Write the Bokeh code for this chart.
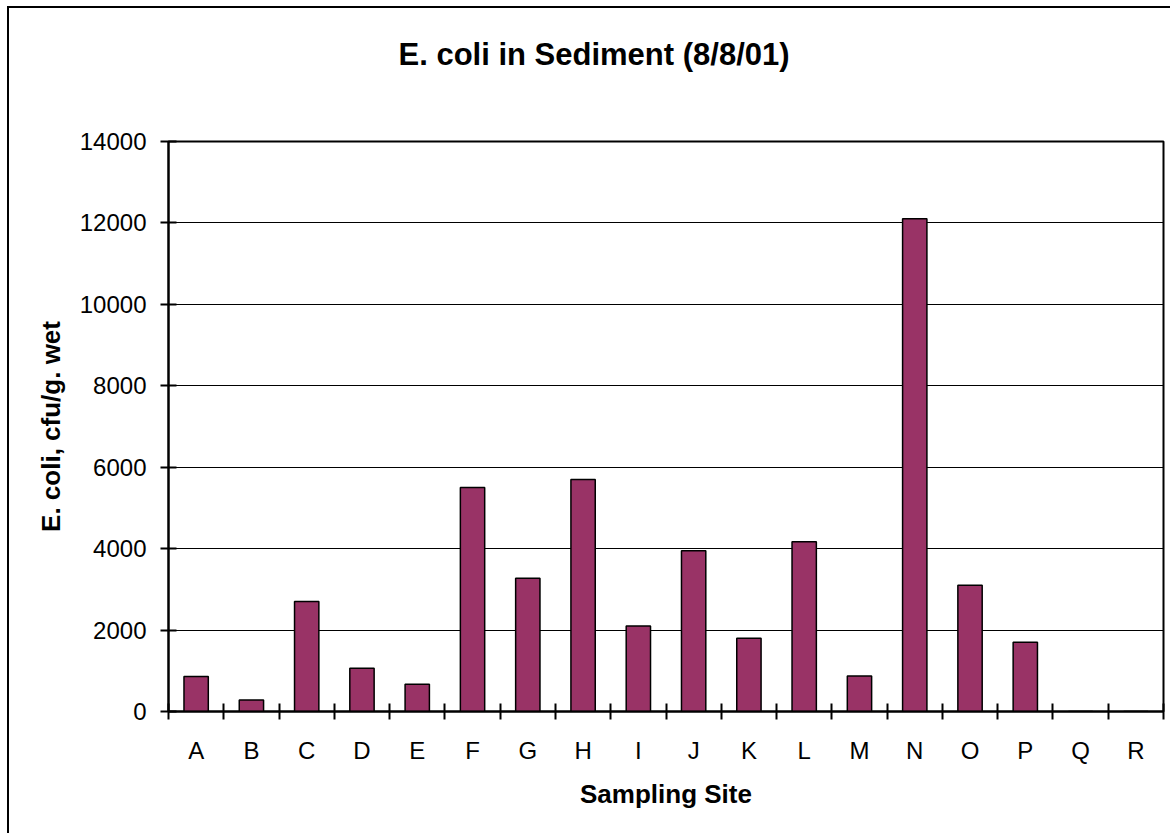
from bokeh.plotting import figure
from bokeh.models import Range1d, FixedTicker, Title
from bokeh.embed import file_html
from bokeh.resources import INLINE

sites = ["A", "B", "C", "D", "E", "F", "G", "H", "I", "J", "K", "L", "M", "N", "O", "P", "Q", "R"]
ecoli = [860, 280, 2700, 1060, 670, 5500, 3270, 5700, 2100, 3950, 1800, 4170, 870, 12100, 3100, 1700, 0, 0]
y_ticks = [0, 2000, 4000, 6000, 8000, 10000, 12000, 14000]
title_text = "E. coli in Sediment (8/8/01)"

FONT = "Liberation Sans"
n = len(sites)
centers = [i + 0.5 for i in range(n)]
bounds = list(range(n + 1))

p = figure(width=1163, height=827, x_range=Range1d(0, n), y_range=Range1d(0, 14000),
           output_backend="svg", toolbar_location=None,
           min_border_left=159, min_border_right=9, min_border_top=133, min_border_bottom=124)
p.styles = {"margin-left": "7px", "margin-top": "6px",
            "border-left": "2px solid black", "border-top": "2px solid black"}

p.title.text = title_text
p.title.text_font = FONT
p.title.text_font_size = "31px"
p.title.text_font_style = "bold"
p.title.text_color = "black"
p.title.align = "left"
p.title.offset = 230
p.title.vertical_align = "top"
p.title.standoff = 0

# blank spacer between the title and the plot area
spacer = Title(text=" ", text_font_size="1px", standoff=65)
p.add_layout(spacer, "above")

p.vbar(x=centers, top=ecoli, width=0.44, fill_color="#993366", line_color="black", line_width=1.5)

p.outline_line_color = "black"
p.outline_line_width = 2
p.background_fill_color = "white"
p.border_fill_color = "white"

# y axis
p.yaxis.ticker = FixedTicker(ticks=y_ticks)
p.yaxis.axis_line_width = 2
p.yaxis.axis_line_color = "black"
p.yaxis.major_tick_in = 8
p.yaxis.major_tick_out = 8
p.yaxis.major_tick_line_width = 2
p.yaxis.minor_tick_line_color = None
p.yaxis.major_label_text_font = FONT
p.yaxis.major_label_text_font_size = "24px"
p.yaxis.major_label_text_color = "black"
p.yaxis.major_label_standoff = 14
p.yaxis.axis_label = "E. coli, cfu/g. wet"
p.yaxis.axis_label_text_font = FONT
p.yaxis.axis_label_text_font_size = "26px"
p.yaxis.axis_label_text_font_style = "bold"
p.yaxis.axis_label_text_color = "black"
p.yaxis.axis_label_standoff = 11

# x axis
p.xaxis.ticker = FixedTicker(ticks=centers, minor_ticks=bounds)
p.xaxis.major_label_overrides = {c: s for c, s in zip(centers, sites)}
p.xaxis.axis_line_width = 2
p.xaxis.axis_line_color = "black"
p.xaxis.major_tick_in = 0
p.xaxis.major_tick_out = 0
p.xaxis.major_tick_line_color = None
p.xaxis.minor_tick_in = 8
p.xaxis.minor_tick_out = 8
p.xaxis.minor_tick_line_width = 2
p.xaxis.minor_tick_line_color = "black"
p.xaxis.major_label_text_font = FONT
p.xaxis.major_label_text_font_size = "24px"
p.xaxis.major_label_text_color = "black"
p.xaxis.major_label_standoff = 17
p.xaxis.axis_label = "Sampling Site"
p.xaxis.axis_label_text_font = FONT
p.xaxis.axis_label_text_font_size = "26px"
p.xaxis.axis_label_text_font_style = "bold"
p.xaxis.axis_label_text_color = "black"
p.xaxis.axis_label_standoff = 12

p.xgrid.grid_line_color = None
p.ygrid.ticker = FixedTicker(ticks=y_ticks)
p.ygrid.grid_line_color = "black"
p.ygrid.grid_line_width = 1

open("out.html", "w").write(file_html(p, INLINE))
